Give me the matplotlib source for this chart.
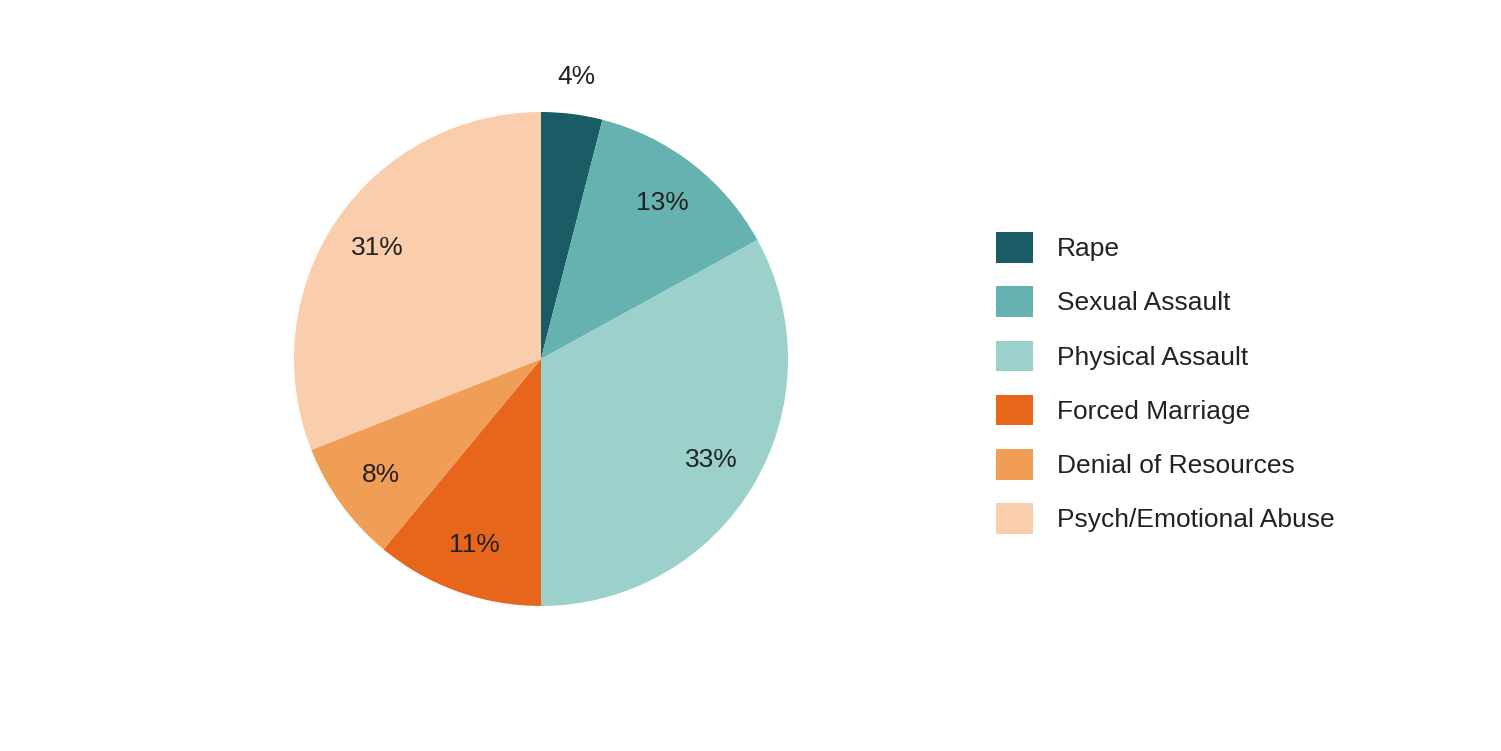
import matplotlib.pyplot as plt

labels = ['Rape', 'Sexual Assault', 'Physical Assault', 'Forced Marriage',
          'Denial of Resources', 'Psych/Emotional Abuse']
values = [4, 13, 33, 11, 8, 31]
colors = ['#1a5c66', '#66b2b0', '#9bd1ca', '#e8651c', '#f09d56', '#facdac']

plt.rcParams['font.family'] = 'Liberation Sans'

fig = plt.figure(figsize=(15.01, 7.51), dpi=100)
ax = fig.add_axes([(541 - 247) / 1501, (392 - 247) / 751, 494 / 1501, 494 / 751])

wedges, texts, autotexts = ax.pie(values, colors=colors, startangle=90, counterclock=False,
                                  autopct='%d%%', pctdistance=0.8, radius=1,
                                  textprops={'fontsize': 19, 'color': '#222222'})
# smallest slice label sits outside the pie
x, y = autotexts[0].get_position()
autotexts[0].set_position((x / 0.8 * 1.15, y / 0.8 * 1.15))
ax.set_xlim(-1, 1)
ax.set_ylim(-1, 1)
ax.set_aspect('equal')

fig.legend(wedges, labels, loc='center left', bbox_to_anchor=(0.648, 0.49),
           frameon=False, fontsize=19, handlelength=1.4, handleheight=1.4,
           labelspacing=0.9, handletextpad=0.9, labelcolor='#222222')

fig.savefig('out.png', dpi=100)
